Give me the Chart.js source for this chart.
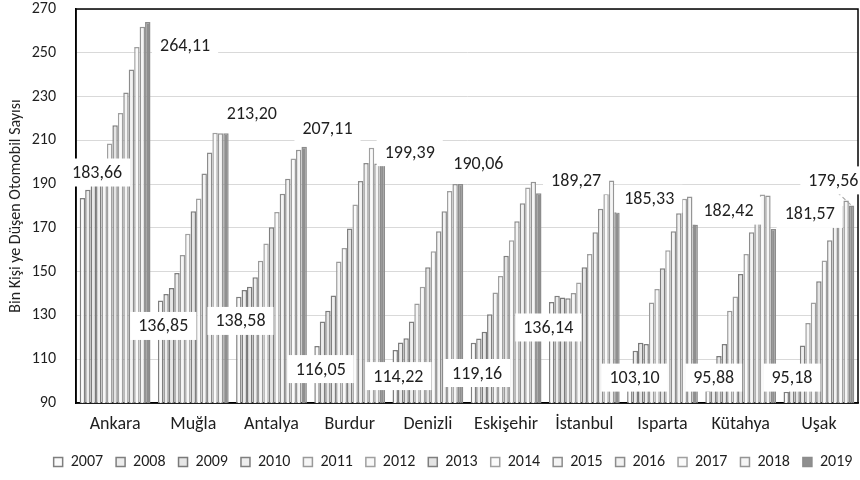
<!DOCTYPE html>
<html>
<head>
<meta charset="utf-8">
<script src="https://cdn.jsdelivr.net/npm/chart.js@4"></script>
<style>
  html, body { margin: 0; background: #fff; }
</style>
</head>
<body>
<canvas id="chart" width="860" height="480"></canvas>
<script>
// =============================================
// DATA
// =============================================
const cities = ['Ankara', 'Muğla', 'Antalya', 'Burdur', 'Denizli', 'Eskişehir', 'İstanbul', 'Isparta', 'Kütahya', 'Uşak'];
const years = ['2007', '2008', '2009', '2010', '2011', '2012', '2013', '2014', '2015', '2016', '2017', '2018', '2019'];

// one array per city, 2007 -> 2019
const ankara    = [183.66, 187.4, 190.5, 194.0, 199.0, 208.5, 216.9, 222.5, 231.8, 242.4, 252.6, 261.9, 264.11];
const mugla     = [136.85, 139.8, 142.5, 149.4, 157.6, 167.3, 177.6, 183.4, 194.9, 204.4, 213.5, 213.2, 213.20];
const antalya   = [138.58, 141.6, 143.1, 147.4, 155.0, 162.9, 170.3, 177.3, 185.6, 192.4, 201.7, 205.7, 207.11];
const burdur    = [116.05, 127.2, 132.1, 139.1, 154.7, 160.8, 169.7, 180.7, 191.4, 199.6, 206.6, 199.4, 199.39];
const denizli   = [114.22, 117.6, 119.6, 127.2, 135.5, 143.1, 152.0, 159.3, 168.5, 177.6, 186.8, 190.1, 190.06];
const eskisehir = [117.5, 119.5, 122.5, 130.5, 140.5, 148.0, 157.3, 164.4, 173.0, 181.2, 188.5, 191.1, 185.8];
const istanbul  = [136.14, 139.0, 138.2, 137.9, 140.2, 145.1, 152.0, 158.1, 168.0, 178.7, 185.6, 191.7, 177.2];
const isparta   = [103.10, 113.9, 117.5, 117.0, 135.9, 142.1, 151.6, 159.8, 168.5, 176.7, 183.3, 184.3, 171.5];
const kutahya   = [95.88, 103.0, 111.5, 116.9, 132.2, 138.7, 148.9, 158.1, 168.0, 175.6, 185.3, 184.8, 169.5];
const usak      = [95.18, 101.0, 106.0, 116.3, 126.5, 135.9, 145.6, 155.1, 164.4, 173.4, 180.0, 182.5, 180.2];
const cityValues = [ankara, mugla, antalya, burdur, denizli, eskisehir, istanbul, isparta, kutahya, usak];

// value labels shown on the chart
const lowLabels  = ['183,66', '136,85', '138,58', '116,05', '114,22', '119,16', '136,14', '103,10', '95,88', '95,18'];
const highLabels = ['264,11', '213,20', '207,11', '199,39', '190,06', '189,27', '185,33', '182,42', '181,57', '179,56'];

// label placement: [pixel offset from category centre, y value on the axis]
const lowLabelPos  = [[-18, 195.3], [-30, 125.2], [-31, 127.5], [-29, 105.5], [-29.5, 102.3], [-29, 103.7], [-36, 124.5], [-28, 101.6], [-27, 101.6], [-27, 101.6]];
const highLabelPos = [[70, 253.5], [58.6, 222.2], [56, 215.3], [60, 204.6], [50.5, 199.3], [70, 191.7], [65, 183.3], [66, 177.9], [69, 176.4], [14.5, 191.7]];

const fills   = ['#fafafa', '#ececec', '#e6e6e6', '#eeeeee', '#f6f6f6', '#f8f8f8', '#e4e4e4', '#fbfbfb', '#f4f4f4', '#f2f2f2', '#fafafa', '#f5f5f5', '#8f8f8f'];
const borders = ['#7f7f7f', '#7f7f7f', '#7a7a7a', '#7f7f7f', '#9a9a9a', '#a0a0a0', '#7f7f7f', '#a0a0a0', '#8c8c8c', '#8c8c8c', '#a0a0a0', '#959595', '#8c8c8c'];

const FONT = 'Carlito, Calibri, Lato, sans-serif';
const TEXT = '#1f1f1f';

// =============================================
// PLUGINS
// =============================================
const frame = {
  id: 'frame',
  afterLayout(chart) {
    // legend sits a little right of the canvas centre in the original
    chart.legend.left += 24;
    chart.legend.right += 24;
  },
  beforeDatasetsDraw(chart) {
    const { ctx, chartArea: a } = chart;
    ctx.save();
    ctx.strokeStyle = '#000';
    ctx.lineWidth = 1.5;
    ctx.strokeRect(a.left, a.top, a.right - a.left, a.bottom - a.top);
    ctx.restore();
  }
};

function drawLabel(ctx, text, x, y) {
  ctx.font = '18px ' + FONT;
  const w = ctx.measureText(text).width + 16;
  const h = 28;
  ctx.fillStyle = '#fff';
  ctx.fillRect(x - w / 2, y - h / 2, w, h);
  ctx.fillStyle = TEXT;
  ctx.textAlign = 'center';
  ctx.textBaseline = 'middle';
  ctx.fillText(text, x, y + 1);
}

const valueLabels = {
  id: 'valueLabels',
  afterDatasetsDraw(chart) {
    const { ctx, scales: { x, y } } = chart;
    ctx.save();

    // leader line for the last high label (Uşak)
    const last = cities.length - 1;
    const bar = chart.getDatasetMeta(years.length - 1).data[last];
    const lx = x.getPixelForValue(last) + highLabelPos[last][0];
    const ly = y.getPixelForValue(highLabelPos[last][1]);
    ctx.strokeStyle = '#a6a6a6';
    ctx.lineWidth = 1.2;
    ctx.setLineDash([4, 3]);
    ctx.beginPath();
    ctx.moveTo(lx + 4, ly + 12);
    ctx.lineTo(bar.x, bar.y);
    ctx.stroke();
    ctx.setLineDash([]);

    cities.forEach((c, i) => {
      const cx = x.getPixelForValue(i);
      drawLabel(ctx, lowLabels[i], cx + lowLabelPos[i][0], y.getPixelForValue(lowLabelPos[i][1]));
      drawLabel(ctx, highLabels[i], cx + highLabelPos[i][0], y.getPixelForValue(highLabelPos[i][1]));
    });
    ctx.restore();
  }
};

// =============================================
// CHART
// =============================================
const datasets = years.map((yr, j) => ({
  label: yr,
  data: cityValues.map(v => v[j]),
  backgroundColor: fills[j],
  borderColor: borders[j],
  borderWidth: 1.5,
  barPercentage: 1,
  categoryPercentage: 0.905
}));

new Chart(document.getElementById('chart'), {
  type: 'bar',
  data: { labels: cities, datasets },
  options: {
    responsive: false,
    devicePixelRatio: 1,
    animation: false,
    layout: { padding: { top: 9, right: 2, left: 0, bottom: 0 } },
    plugins: {
      legend: {
        position: 'bottom',
        labels: {
          boxWidth: 9,
          boxHeight: 9,
          padding: 13,
          color: TEXT,
          font: { family: FONT, size: 16 }
        }
      },
      tooltip: { enabled: false }
    },
    scales: {
      x: {
        grid: { display: false, drawTicks: false },
        border: { color: '#000', width: 1.5 },
        ticks: { color: TEXT, padding: 11, font: { family: FONT, size: 18 } },
        afterFit: s => { s.height = 38; }
      },
      y: {
        min: 90,
        max: 270,
        ticks: { stepSize: 20, color: TEXT, padding: 20, font: { family: FONT, size: 16 } },
        grid: { color: '#d9d9d9', drawTicks: false },
        border: { color: '#000', width: 1.5 },
        title: {
          display: true,
          text: 'Bin Kişi ye Düşen Otomobil Sayısı',
          color: TEXT,
          font: { family: FONT, size: 16 },
          padding: { top: 6, bottom: 0 }
        },
        afterFit: s => { s.width = 76; s.paddingTop = 0; s.paddingBottom = 0; }
      }
    }
  },
  plugins: [frame, valueLabels]
});
</script>
</body>
</html>
